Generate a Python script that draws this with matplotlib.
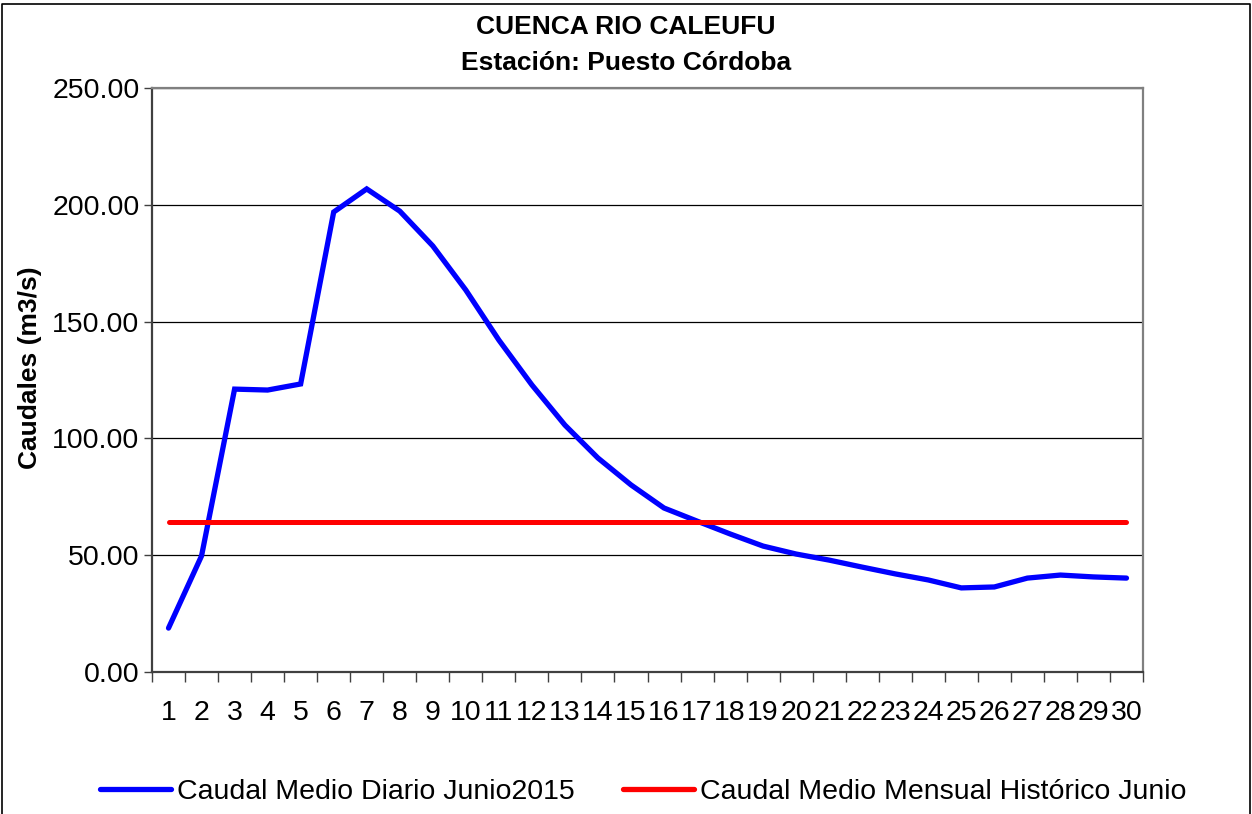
import matplotlib
matplotlib.use('Agg')
from matplotlib import pyplot as plt
from matplotlib.lines import Line2D

plt.rcParams['font.family'] = ['Liberation Sans', 'DejaVu Sans']

days = list(range(1, 31))
caudal_diario = [18.8, 49.7, 121.1, 120.7, 123.3, 196.9, 206.8, 197.3, 182.4, 163.5,
                 142.1, 122.9, 105.7, 91.6, 80.1, 70.2, 64.6, 59.1, 53.9, 50.5,
                 47.9, 44.9, 42.0, 39.4, 36.0, 36.4, 40.2, 41.5, 40.7, 40.2]
caudal_historico = [64.2] * 30
y_ticks = [0, 50, 100, 150, 200, 250]

fig = plt.figure(figsize=(12.52, 8.14), dpi=100)
axes = fig.add_axes([152 / 1252, 1 - 672 / 814, (1143 - 152) / 1252, (672 - 88) / 814])

axes.plot(days, caudal_diario, color='#0000FF', lw=3.8, solid_capstyle='round',
          solid_joinstyle='miter', label='Caudal Medio Diario Junio2015', zorder=3)
axes.plot(days, caudal_historico, color='#FF0000', lw=3.6, solid_capstyle='round',
          label='Caudal Medio Mensual Histórico Junio', zorder=3)

axes.set_xlim(0.5, 30.5)
axes.set_ylim(0, 250)
axes.set_yticks(y_ticks)
axes.set_yticklabels([f'{v:.2f}' for v in y_ticks])
axes.set_xticks(days)
axes.set_xticklabels([str(d) for d in days])
axes.set_xticks([d + 0.5 for d in range(0, 31)], minor=True)
axes.tick_params(axis='x', which='major', length=0, pad=20, labelsize=20.5)
axes.tick_params(axis='x', which='minor', length=7, width=1, color='#404040', direction='out')
axes.tick_params(axis='y', length=6, width=1, color='#404040', direction='out', labelsize=20.5, pad=3)
axes.yaxis.grid(True, color='black', lw=0.9)
axes.set_axisbelow(True)
for side in ['left', 'bottom']:
    axes.spines[side].set_color('#404040')
    axes.spines[side].set_linewidth(1.6)
for side in ['top', 'right']:
    axes.spines[side].set_color('#808080')
    axes.spines[side].set_linewidth(1.6)

fig.text(30 / 1252, 1 - 368 / 814, 'Caudales (m3/s)', rotation=90, ha='center', va='center',
         fontsize=19, fontweight='bold')
fig.text(0.5, 1 - 27 / 814, 'CUENCA RIO CALEUFU', ha='center', va='center', fontsize=19, fontweight='bold')
fig.text(0.5, 1 - 63 / 814, 'Estación: Puesto Córdoba', ha='center', va='center', fontsize=19, fontweight='bold')

handles = [Line2D([], [], color='#0000FF', lw=3.8, solid_capstyle='round'),
           Line2D([], [], color='#FF0000', lw=3.8, solid_capstyle='round')]
fig.legend(handles, ['Caudal Medio Diario Junio2015', 'Caudal Medio Mensual Histórico Junio'],
           loc='center', bbox_to_anchor=(0.5136, 1 - 792 / 814), ncol=2, frameon=False,
           fontsize=20.5, handlelength=2.5, handletextpad=0.2, columnspacing=1.7)

# chart border
fig.add_artist(Line2D([2 / 1252, 2 / 1252, 1250 / 1252, 1250 / 1252], [0, 1 - 4 / 814, 1 - 4 / 814, 0],
                      transform=fig.transFigure, color='black', lw=1.2))

fig.savefig('out.png', dpi=100)
plt.close()
